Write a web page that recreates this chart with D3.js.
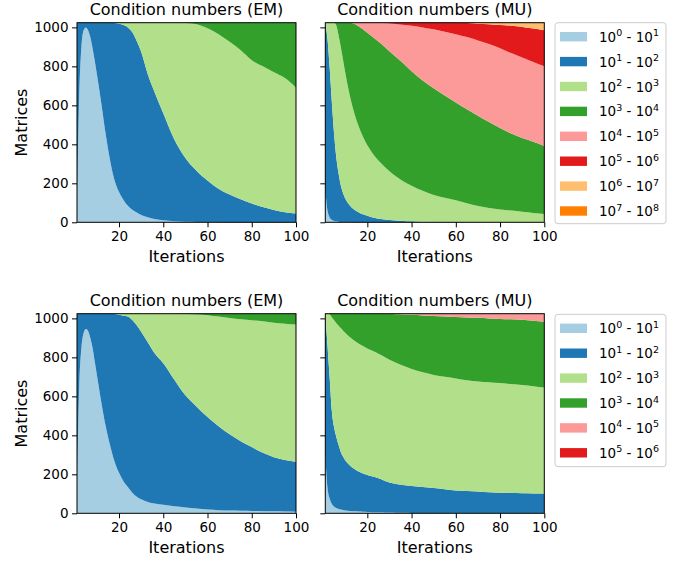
<!DOCTYPE html>
<html>
<head>
<meta charset="utf-8">
<script src="https://cdn.jsdelivr.net/npm/d3@7"></script>
<style>
  body { margin: 0; background: #fff; }
  text { font-family: "DejaVu Sans", sans-serif; fill: #000; }
</style>
</head>
<body>
<div id="chart-container"></div>
<script>
const iterations = [1,2,3,4,5,6,7,8,9,10,12,14,16,18,20,22,24,26,28,30,33,36,40,45,50,55,60,65,70,75,80,85,90,95,100];

// number of matrices per condition-number bin (10^k - 10^(k+1)), k = 0..
const emTop = [
  [100,650,900,985,1000,985,950,895,830,760,610,450,315,215,155,115,85,65,50,38,26,17,10,6,3,2,1,0,0,0,0,0,0,0,0],
  [924,374,124,39,24,39,74,129,194,264,414,574,709,807,863,897,915,910,880,837,734,653,550,419,327,263,214,172,142,118,96,78,63,52,45],
  [0,0,0,0,0,0,0,0,0,0,0,0,0,2,6,12,24,49,94,149,264,354,464,599,692,751,780,793,784,765,736,722,707,688,645],
  [0,0,0,0,0,0,0,0,0,0,0,0,0,0,0,0,0,0,0,0,0,0,0,0,2,8,29,59,98,141,192,224,254,284,334]
];
const muTop = [
  [170,60,25,12,7,5,3,2,2,1,1,0,0,0,0,0,0,0,0,0,0,0,0,0,0,0,0,0,0,0,0,0,0,0,0],
  [854,880,765,598,443,325,247,188,148,121,87,66,52,41,33,26,21,17,14,12,9,7,5,3,2,1,1,0,0,0,0,0,0,0,0],
  [0,84,234,414,574,680,710,710,685,648,567,499,443,399,362,334,309,288,269,250,226,205,183,159,138,125,112,98,84,74,66,60,54,48,43],
  [0,0,0,0,0,14,64,124,189,254,369,453,511,550,577,595,607,613,615,616,613,606,587,566,548,524,502,482,462,440,418,395,378,365,348],
  [0,0,0,0,0,0,0,0,0,0,0,6,18,34,52,69,86,104,123,142,169,195,233,272,302,328,350,370,387,401,409,413,413,409,409],
  [0,0,0,0,0,0,0,0,0,0,0,0,0,0,0,0,1,2,3,4,7,11,16,24,34,46,59,72,86,101,119,140,157,172,185],
  [0,0,0,0,0,0,0,0,0,0,0,0,0,0,0,0,0,0,0,0,0,0,0,0,0,0,0,2,5,8,12,15,20,27,35],
  [0,0,0,0,0,0,0,0,0,0,0,0,0,0,0,0,0,0,0,0,0,0,0,0,0,0,0,0,0,0,0,1,2,3,4]
];
const emBottom = [
  [150,650,850,925,945,935,900,850,780,710,570,445,347,265,208,165,135,105,85,72,58,50,44,36,30,24,19,16,14,13,12,11,10,9,8],
  [874,374,174,99,79,89,124,174,244,314,454,579,677,757,810,849,875,887,880,860,819,772,726,649,575,524,475,431,391,357,328,299,278,264,256],
  [0,0,0,0,0,0,0,0,0,0,0,0,0,2,6,10,14,32,59,92,147,202,254,339,417,472,522,562,597,625,650,675,690,699,704],
  [0,0,0,0,0,0,0,0,0,0,0,0,0,0,0,0,0,0,0,0,0,0,0,0,2,4,8,15,22,29,34,39,46,52,56]
];
const muBottom = [
  [300,130,75,48,34,27,22,19,17,15,12,10,9,8,7,6,5,5,4,4,3,3,2,2,2,1,1,1,1,1,1,1,1,1,1],
  [724,730,615,472,406,363,328,296,275,257,235,218,205,196,190,184,179,171,162,154,147,142,138,133,128,123,116,113,111,107,104,103,102,101,100],
  [0,164,330,485,550,585,612,635,646,654,658,659,657,654,649,645,641,637,634,630,622,613,600,588,580,576,575,569,564,564,563,559,555,550,544],
  [0,0,4,19,34,49,62,74,86,98,119,137,153,166,178,189,199,211,223,234,249,262,278,292,302,310,315,322,327,328,329,332,335,336,338],
  [0,0,0,0,0,0,0,0,0,0,0,0,0,0,0,0,0,0,1,2,3,4,6,9,12,14,17,19,21,24,27,29,31,36,41],
  [0,0,0,0,0,0,0,0,0,0,0,0,0,0,0,0,0,0,0,0,0,0,0,0,0,0,0,0,0,0,0,0,0,0,0]
];

const binExponents = [0,1,2,3,4,5,6,7];
const colors = ["#a6cee3","#1f78b4","#b2df8a","#33a02c","#fb9a99","#e31a1c","#fdbf6f","#ff7f00"];
const xTicks = [20,40,60,80,100];
const yTicks = [0,200,400,600,800,1000];
const totalMatrices = 1024;

const width = 689, height = 563;
const svg = d3.select("#chart-container")
    .append("svg")
    .attr("width", width)
    .attr("height", height);

function drawPanel(series, left, top, title, showYLabels) {
    const w = 219, h = 199.6;
    const g = svg.append("g").attr("transform", `translate(${left},${top})`);

    const x = d3.scaleLinear().domain([1, 100]).range([0, w]);
    const y = d3.scaleLinear().domain([0, totalMatrices]).range([h, 0]);

    const keys = series.map((s, i) => "b" + i);
    const rows = iterations.map((it, j) => {
        const r = {it: it};
        series.forEach((s, i) => r["b" + i] = s[j]);
        return r;
    });
    const stacked = d3.stack().keys(keys)(rows);

    const area = d3.area()
        .x(d => x(d.data.it))
        .y0(d => y(d[0]))
        .y1(d => y(d[1]))
        .curve(d3.curveMonotoneX);

    g.append("g")
        .selectAll("path")
        .data(stacked)
        .enter()
        .append("path")
        .attr("d", area)
        .style("fill", (d, i) => colors[i]);

    const xAxis = g.append("g")
        .attr("transform", `translate(0,${h})`)
        .call(d3.axisBottom(x).tickValues(xTicks).tickSize(5).tickPadding(4.5));
    const yAxis = g.append("g")
        .call(d3.axisLeft(y).tickValues(yTicks).tickSize(5).tickPadding(3.5)
              .tickFormat(showYLabels ? d3.format("d") : ""));
    [xAxis, yAxis].forEach(a => {
        a.select(".domain").remove();
        a.selectAll("line").attr("stroke", "#000").attr("stroke-width", 1);
        a.selectAll("text").style("font-size", "13.5px").style("fill", "#000")
            .style("font-family", "DejaVu Sans, sans-serif");
    });

    // frame
    g.append("rect")
        .attr("x", 0).attr("y", 0)
        .attr("width", w).attr("height", h)
        .attr("fill", "none")
        .attr("stroke", "#000")
        .attr("stroke-width", 1);

    g.append("text")
        .attr("text-anchor", "middle")
        .attr("x", w / 2)
        .attr("y", -7.5)
        .style("font-size", "16px")
        .text(title);

    g.append("text")
        .attr("text-anchor", "middle")
        .attr("x", w / 2)
        .attr("y", h + 40)
        .style("font-size", "16px")
        .text("Iterations");

    if (showYLabels) {
        g.append("text")
            .attr("text-anchor", "middle")
            .attr("transform", `translate(${-50},${h / 2}) rotate(-90)`)
            .style("font-size", "16px")
            .text("Matrices");
    }
}

function drawLegend(n, left, top, boxH) {
    const g = svg.append("g").attr("transform", `translate(${left},${top})`);
    g.append("rect")
        .attr("x", 0).attr("y", 0)
        .attr("width", 111).attr("height", boxH)
        .attr("rx", 3)
        .attr("fill", "#fff")
        .attr("stroke", "#cccccc")
        .attr("stroke-width", 1);

    const rowsG = g.selectAll(".entry")
        .data(binExponents.slice(0, n))
        .enter()
        .append("g")
        .attr("transform", (d, i) => `translate(0,${14 + i * 24.9})`);

    rowsG.append("rect")
        .attr("x", 5).attr("y", -4.7)
        .attr("width", 27).attr("height", 9.4)
        .style("fill", (d, i) => colors[i]);

    const t = rowsG.append("text")
        .attr("x", 44)
        .attr("y", 5)
        .style("font-size", "13.5px");
    t.append("tspan").text("10");
    t.append("tspan").attr("dy", -5.5).style("font-size", "9.5px").text(d => d);
    t.append("tspan").attr("dy", 5.5).text(" - 10");
    t.append("tspan").attr("dy", -5.5).style("font-size", "9.5px").text(d => d + 1);
}

drawPanel(emTop, 77, 22.7, "Condition numbers (EM)", true);
drawPanel(muTop, 325.3, 22.7, "Condition numbers (MU)", false);
drawPanel(emBottom, 77, 313.7, "Condition numbers (EM)", true);
drawPanel(muBottom, 325.3, 313.7, "Condition numbers (MU)", false);

drawLegend(8, 555, 22.7, 201);
drawLegend(6, 555, 314.3, 152.4);
</script>
</body>
</html>
